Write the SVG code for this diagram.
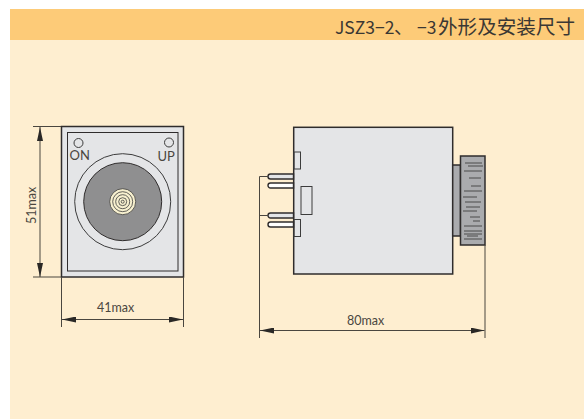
<svg xmlns="http://www.w3.org/2000/svg" width="584" height="419" viewBox="0 0 584 419">
<style>
.o{stroke:#2f2c2c;stroke-width:1.5}
.d{stroke:#4a463f;fill:none;stroke-width:1}
.t{font-family:"Lato","Liberation Sans",sans-serif;font-size:12.5px;font-weight:400;fill:#4a463f}
.m{stroke:#3c3c3c;stroke-width:1;fill:none}
.r{stroke:#3c3c3c;stroke-width:.8;fill:none}
.p{stroke:#2f2c2c;stroke-width:1.4}
.h{font-family:"Noto Sans CJK SC","Noto Sans",sans-serif;fill:#3a3733}
</style>
<defs>
<marker id="ar" viewBox="0 0 14 6" refX="14" refY="3" markerWidth="14" markerHeight="6" markerUnits="userSpaceOnUse" orient="auto-start-reverse"><path d="M14 3L0 0V6Z" fill="#2a2826"/></marker>
</defs>
<rect width="584" height="419" fill="#fff"/>
<rect x="10" y="9" width="574" height="410" fill="#feeed0"/>
<rect x="10" y="9" width="574" height="31" fill="#fdcb78"/>
<text id="title" class="h" y="34" font-size="17.500"><tspan x="335">JSZ3−2</tspan><tspan x="394" font-size="19">、</tspan><tspan x="417">−3</tspan><tspan x="438" font-size="19.600">外形及安装尺寸</tspan></text>
<g id="front">
<rect x="61.500" y="126.500" width="122" height="150.500" fill="#e4e5e7" class="o"/>
<rect x="67.500" y="132.500" width="110.500" height="138.500" fill="none" stroke="#2f2c2c" stroke-width="1"/>
<circle cx="78.500" cy="143" r="4.500" class="m"/>
<circle cx="169" cy="142.500" r="4.500" class="m"/>
<text x="69.500" y="160" class="t" style="font-size:13px">ON</text>
<text x="157.500" y="161" class="t" style="font-size:13px">UP</text>
<circle cx="122.700" cy="201.700" r="48" class="m"/>
<circle cx="122.700" cy="201.700" r="39" fill="#8f8f90" stroke="#2f2c2c" stroke-width="1"/>
<circle cx="122.700" cy="201.700" r="13" fill="#f7f0cf" stroke="#3c3c3c" stroke-width=".8"/>
<circle cx="122.700" cy="201.700" r="10" class="r"/>
<circle cx="122.700" cy="201.700" r="7" class="r"/>
<circle cx="122.700" cy="201.700" r="4" class="r"/>
<circle cx="122.700" cy="201.700" r="1.500" class="r"/>
</g>
<g id="side">
<rect x="293.700" y="127.300" width="159" height="146.700" fill="#e4e5e7" class="o"/>
<rect x="294" y="152" width="6.500" height="17" class="m"/>
<rect x="301" y="186.500" width="11" height="28" class="m"/>
<rect x="294" y="219.500" width="6.500" height="17" class="m"/>
<path d="M293.500 174H270.500a2.500 2.500 0 0 0 0 5H293.500Z" fill="#e4e5e7" class="p"/>
<path d="M293.500 183H270.500a2.500 2.500 0 0 0 0 5H293.500Z" fill="#fff" class="p"/>
<path d="M293.500 213H270.500a2.500 2.500 0 0 0 0 5H293.500Z" fill="#e4e5e7" class="p"/>
<path d="M293.500 222H270.500a2.500 2.500 0 0 0 0 5H293.500Z" fill="#fff" class="p"/>
<rect x="452.700" y="165" width="7.800" height="71" fill="#aaabae" class="o"/>
<rect x="460.500" y="156" width="24.500" height="89" fill="#aaabae" class="o"/>
<path stroke="#4a4a4a" stroke-width="1" fill="none" d="M465 163H482M468 166H483M464 171H482M469 178H481M471 186H481M464 191H482M463 197H477M465 202H481M466 207H480M463 211H477M470 217H480M473 221H480M464 226H482M464 231H482M464 234H482M467 236H478M464 239H482"/>
</g>
<g id="connectors">
<path class="d" d="M33 126.500H61M33 277H61M61.500 277V327M183.500 277V327"/>
<path class="d" d="M40 127V277" marker-start="url(#ar)" marker-end="url(#ar)"/>
<path class="d" d="M62 319.500H183" marker-start="url(#ar)" marker-end="url(#ar)"/>
<path class="d" d="M259.500 176.500V338M259.500 176.500H268M259.500 215.500H268M485 245V338"/>
<path class="d" d="M260 330.500H484.500" marker-start="url(#ar)" marker-end="url(#ar)"/>
</g>
<text class="t" transform="translate(36 224) rotate(-90)">51max</text>
<text class="t" x="97" y="312">41max</text>
<text class="t" x="347" y="325">80max</text>
</svg>
